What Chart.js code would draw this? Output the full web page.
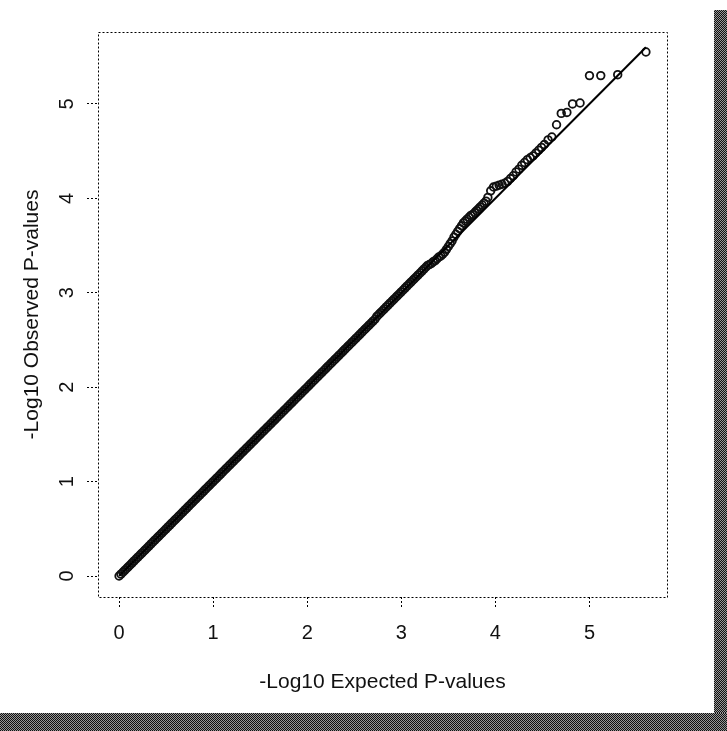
<!DOCTYPE html>
<html>
<head>
<meta charset="utf-8">
<script src="https://cdn.jsdelivr.net/npm/chart.js@4.4.1/dist/chart.umd.min.js"></script>
<style>
  html, body { margin: 0; padding: 0; background: #fff; }
  #wrap { position: relative; width: 727px; height: 731px; overflow: hidden; background: #fff; }
  #c { position: absolute; left: 0; top: 0; }
  .band { position: absolute; background-color: #555;
    background-image: conic-gradient(#111 25%, #999 0 50%, #111 0 75%, #999 0);
    background-size: 2px 2px; }
</style>
</head>
<body>
<div id="wrap">
  <canvas id="c" width="727" height="731"></canvas>
  <div class="band" style="left:714px; top:10px; width:13px; height:721px;"></div>
  <div class="band" style="left:0; top:713px; width:727px; height:18px;"></div>
</div>
<script>
// -Log10 expected p-values (x)
const expected = [
  0.00,0.02,0.04,0.06,0.08,0.10,0.12,0.14,0.16,0.18,
  0.20,0.22,0.24,0.26,0.28,0.30,0.32,0.34,0.36,0.38,
  0.40,0.42,0.44,0.46,0.48,0.50,0.52,0.54,0.56,0.58,
  0.60,0.62,0.64,0.66,0.68,0.70,0.72,0.74,0.76,0.78,
  0.80,0.82,0.84,0.86,0.88,0.90,0.92,0.94,0.96,0.98,
  1.00,1.02,1.04,1.06,1.08,1.10,1.12,1.14,1.16,1.18,
  1.20,1.22,1.24,1.26,1.28,1.30,1.32,1.34,1.36,1.38,
  1.40,1.42,1.44,1.46,1.48,1.50,1.52,1.54,1.56,1.58,
  1.60,1.62,1.64,1.66,1.68,1.70,1.72,1.74,1.76,1.78,
  1.80,1.82,1.84,1.86,1.88,1.90,1.92,1.94,1.96,1.98,
  2.00,2.02,2.04,2.06,2.08,2.10,2.12,2.14,2.16,2.18,
  2.20,2.22,2.24,2.26,2.28,2.30,2.32,2.34,2.36,2.38,
  2.40,2.42,2.44,2.46,2.48,2.50,2.52,2.54,2.56,2.58,
  2.60,2.62,2.64,2.66,2.68,2.70,2.72,2.74,2.76,2.78,
  2.80,2.82,2.84,2.86,2.88,2.90,2.92,2.94,2.96,2.98,
  3.00,3.02,3.04,3.06,3.08,3.10,3.12,3.14,3.16,3.18,
  3.20,3.22,3.24,3.26,3.28,3.30,3.32,3.34,3.36,3.38,
  3.40,3.42,3.44,3.46,3.48,3.50,3.52,3.54,3.56,3.58,
  3.60,3.62,3.64,3.66,3.68,3.70,3.72,3.74,3.76,3.78,
  3.80,3.82,3.84,3.86,3.88,3.90,3.92,3.95,3.98,4.01,
  4.04,4.07,4.10,4.13,4.16,4.19,4.22,4.25,4.28,4.31,
  4.34,4.37,4.40,4.43,4.46,4.49,4.52,4.56,4.60,4.65,
  4.70,4.76,4.82,4.90,5.00,5.12,5.30,5.60
];
// -Log10 observed p-values (y)
const observed = [
  0.00,0.02,0.04,0.06,0.08,0.10,0.12,0.14,0.16,0.18,
  0.20,0.22,0.24,0.26,0.28,0.30,0.32,0.34,0.36,0.38,
  0.40,0.42,0.44,0.46,0.48,0.50,0.52,0.54,0.56,0.58,
  0.60,0.62,0.64,0.66,0.68,0.70,0.72,0.74,0.76,0.78,
  0.80,0.82,0.84,0.86,0.88,0.90,0.92,0.94,0.96,0.98,
  1.00,1.02,1.04,1.06,1.08,1.10,1.12,1.14,1.16,1.18,
  1.20,1.22,1.24,1.26,1.28,1.30,1.32,1.34,1.36,1.38,
  1.40,1.42,1.44,1.46,1.48,1.50,1.52,1.54,1.56,1.58,
  1.60,1.62,1.64,1.66,1.68,1.70,1.72,1.74,1.76,1.78,
  1.80,1.82,1.84,1.86,1.88,1.90,1.92,1.94,1.96,1.98,
  2.00,2.02,2.04,2.06,2.08,2.10,2.12,2.14,2.16,2.18,
  2.20,2.22,2.24,2.26,2.28,2.30,2.32,2.34,2.36,2.38,
  2.40,2.42,2.44,2.46,2.48,2.50,2.52,2.54,2.56,2.58,
  2.60,2.62,2.64,2.66,2.68,2.70,2.72,2.75,2.77,2.79,
  2.81,2.83,2.85,2.87,2.89,2.91,2.93,2.95,2.97,2.99,
  3.01,3.03,3.05,3.07,3.09,3.11,3.13,3.15,3.17,3.19,
  3.21,3.23,3.25,3.27,3.29,3.30,3.31,3.33,3.34,3.36,
  3.38,3.39,3.41,3.43,3.46,3.49,3.52,3.55,3.59,3.62,
  3.65,3.68,3.71,3.74,3.76,3.78,3.80,3.82,3.83,3.85,
  3.87,3.89,3.91,3.93,3.95,3.97,4.01,4.08,4.12,4.13,
  4.14,4.15,4.16,4.18,4.21,4.24,4.28,4.31,4.35,4.38,
  4.41,4.43,4.45,4.48,4.51,4.54,4.57,4.62,4.65,4.78,
  4.90,4.91,5.00,5.01,5.30,5.30,5.31,5.55
];
// reference diagonal
const diagX = [0, 5.6];
const diagY = [0, 5.6];
// axis ticks
const xTicks = [0, 1, 2, 3, 4, 5];
const yTicks = [0, 1, 2, 3, 4, 5];

const points = expected.map((x, i) => ({ x: x, y: observed[i] }));
const diag = diagX.map((x, i) => ({ x: x, y: diagY[i] }));

const FONT = "'Liberation Sans', Arial, Helvetica, sans-serif";

const framePlugin = {
  id: 'frame',
  afterDraw(chart) {
    const a = chart.chartArea, ctx = chart.ctx;
    ctx.save();
    ctx.strokeStyle = '#000';
    ctx.lineWidth = 1;
    ctx.setLineDash([2, 2]);
    ctx.strokeRect(Math.round(a.left) + 0.5, Math.round(a.top) + 0.5,
                   Math.round(a.right - a.left), Math.round(a.bottom - a.top));
    ctx.restore();
  }
};

new Chart(document.getElementById('c'), {
  type: 'scatter',
  data: {
    datasets: [
      {
        type: 'line',
        data: diag,
        borderColor: '#000',
        borderWidth: 2,
        pointRadius: 0,
        fill: false,
        tension: 0
      },
      {
        data: points,
        pointStyle: 'circle',
        pointRadius: 3.8,
        pointBorderWidth: 1.8,
        borderColor: '#111',
        backgroundColor: 'rgba(0,0,0,0)',
        pointBackgroundColor: 'rgba(0,0,0,0)',
        pointBorderColor: '#111'
      }
    ]
  },
  options: {
    responsive: false,
    animation: false,
    devicePixelRatio: 1,
    events: [],
    layout: { padding: { left: 0, top: 32, right: 60, bottom: 0 } },
    plugins: { legend: { display: false }, tooltip: { enabled: false } },
    scales: {
      x: {
        type: 'linear',
        position: 'bottom',
        min: -0.224,
        max: 5.824,
        afterBuildTicks: s => { s.ticks = xTicks.map(v => ({ value: v })); },
        afterFit: s => { s.height = 134; },
        grid: { display: true, drawOnChartArea: false, drawTicks: true, tickLength: 11,
                color: '#000', lineWidth: 1, tickBorderDash: [2, 2] },
        border: { display: false },
        ticks: { color: '#111', font: { family: FONT, size: 20 }, padding: 13,
                 maxRotation: 0, minRotation: 0, callback: v => String(v) },
        title: { display: true, text: '-Log10 Expected P-values', color: '#111',
                 font: { family: FONT, size: 21 }, padding: { top: 0, bottom: 36 } }
      },
      y: {
        type: 'linear',
        position: 'left',
        min: -0.222,
        max: 5.762,
        afterBuildTicks: s => { s.ticks = yTicks.map(v => ({ value: v })); },
        afterFit: s => { s.width = 98; },
        grid: { display: true, drawOnChartArea: false, drawTicks: true, tickLength: 11,
                color: '#000', lineWidth: 1, tickBorderDash: [2, 2] },
        border: { display: false },
        ticks: { color: '#111', font: { family: FONT, size: 20 }, padding: 14,
                 minRotation: 90, maxRotation: 90, crossAlign: 'center', callback: v => String(v) },
        title: { display: true, text: '-Log10 Observed P-values', color: '#111',
                 font: { family: FONT, size: 21 }, padding: { top: 20, bottom: 0 } }
      }
    }
  },
  plugins: [framePlugin]
});
</script>
</body>
</html>
